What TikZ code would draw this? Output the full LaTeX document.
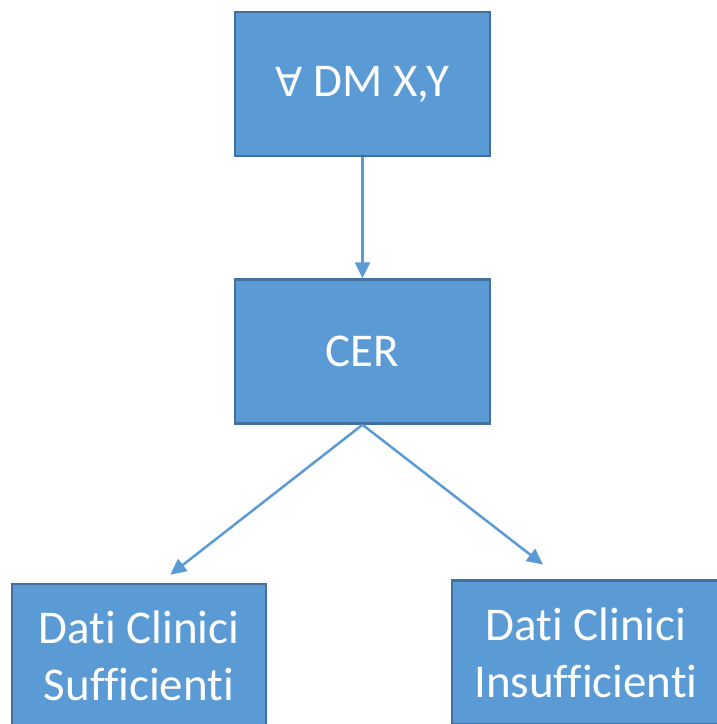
\documentclass[tikz,border=0pt]{standalone}
\usepackage{fontspec}
\setmainfont{Carlito}[Ligatures=NoCommon]
\newfontfamily\symfont{DejaVu Sans}
\usetikzlibrary{positioning,arrows.meta}
\definecolor{boxblue}{HTML}{5B9BD5}
\definecolor{boxedge}{HTML}{41719C}

\begin{document}
\begin{tikzpicture}[x=1pt, y=1pt,
    box/.style={draw=boxedge, line width=2.5pt, fill=boxblue, text=white,
        minimum width=255pt, minimum height=144pt, align=center,
        font=\fontsize{47}{57}\selectfont},
    link/.style={draw=boxblue, line width=2.5pt, -{Triangle[length=16pt,width=15pt]}}]

    \useasboundingbox (0,0) rectangle (717,-724);

    \node[box] (forall) at (362.5,-84) {{\symfont\fontsize{40}{57}\selectfont ∀} DM X,Y};
    \node[box, below=121pt of forall] (cer) {CER};

    \node[box, minimum width=254pt] (suff) at (139,-656) {Dati Clinici\\Sufficienti};
    \node[box, minimum width=268pt] (insuff) at (586,-652.5) {Dati Clinici\\Insufficienti};

    % links
    \draw[link] (forall) -- (cer);
    \draw[link, shorten >=13pt] (cer.south) -- ([xshift=21pt]suff.north);
    \draw[link, shorten >=24pt] (cer.south) -- ([xshift=-24pt]insuff.north);

\end{tikzpicture}
\end{document}
